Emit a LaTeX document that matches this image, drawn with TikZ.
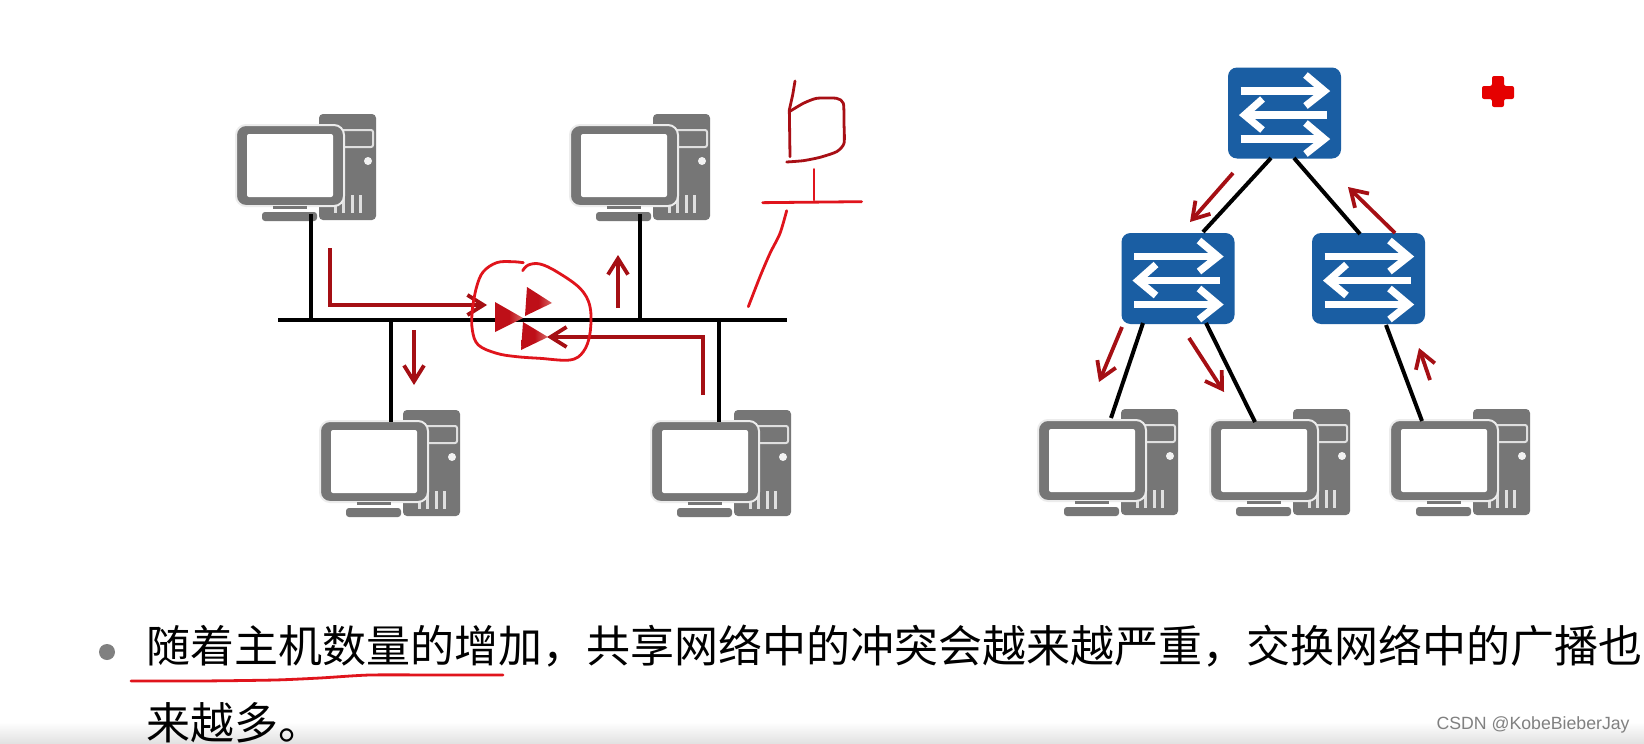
\documentclass[tikz,border=0pt]{standalone}
\usepackage{fontspec}
\setmainfont{Liberation Sans}
\newfontfamily\cjk{Noto Sans CJK SC}
\usetikzlibrary{arrows.meta,shadings}
\definecolor{pcgray}{HTML}{767676}
\definecolor{swblue}{HTML}{1A5EA3}
\definecolor{darkred}{HTML}{A50F14}
\definecolor{inkred}{HTML}{E0141C}
\definecolor{burstL}{HTML}{BE0F18}
\definecolor{burstR}{HTML}{D86A68}
\tikzset{
  x=0.5pt,y=-0.5pt,
  link/.style={line width=2pt,black},
  flow/.style={line width=1.9pt,darkred,-{Straight Barb[length=8pt,width=10pt,line width=1.9pt]}},
  ink/.style={line width=1.4pt,inkred,line cap=round,line join=round},
  swbox/.style={rectangle,rounded corners=4.5pt,fill=swblue,minimum width=56.5pt,minimum height=45.5pt,inner sep=0pt},
  swarrow/.style={line width=3.6pt,white,line join=miter},
  burst/.style={left color=burstL,right color=burstR,middle color=burstL},
  pcicon/.pic={
    \fill[pcgray,rounded corners=2pt] (82,0) rectangle (139,106);
    \draw[white!75!gray,line width=1pt,rounded corners=1pt] (100,16) -- (136,16) -- (136,33) -- (100,33);
    \fill[white!90!gray] (131,47) circle (4);
    \foreach \vx in {98,106,115,123}{\draw[white!75!gray,line width=1.5pt] (\vx,81) -- (\vx,99);}
    \fill[pcgray,draw=white!85!gray,line width=1pt,rounded corners=5pt] (-1,11) rectangle (107,92);
    \fill[white,rounded corners=1pt] (10,20) rectangle (96,83);
    \fill[pcgray] (36,92) rectangle (70,95);
    \fill[pcgray,rounded corners=1.5pt] (25,98) rectangle (80,107);
  },
  pics/swicon/.style={code={
    \draw[swarrow] (-44,-22) -- (40,-22);
    \draw[swarrow] (21,-38) -- (40,-22) -- (21,-7);
    \draw[swarrow] (42,2) -- (-40,2);
    \draw[swarrow] (-22,-14) -- (-40,2) -- (-22,17);
    \draw[swarrow] (-44,26) -- (40,26);
    \draw[swarrow] (21,10) -- (40,26) -- (21,41);
  }}
}
\begin{document}
\begin{tikzpicture}
\useasboundingbox (0,0) rectangle (1644,744);
\fill[white] (0,0) rectangle (1644,744);
\shade[top color=white,bottom color=black!12] (0,722) rectangle (1644,744);

% computers
\pic at (237,114) {pcicon};
\pic at (571,114) {pcicon};
\pic at (321,410) {pcicon};
\pic at (652,410) {pcicon};
\pic at (1039,409) {pcicon};
\pic at (1211,409) {pcicon};
\pic at (1391,409) {pcicon};

% shared bus
\coordinate (busL) at (278,320);
\coordinate (busR) at (787,320);
\coordinate (b1) at (311,320);
\coordinate (b2) at (640,320);
\coordinate (b3) at (391,320);
\coordinate (b4) at (719,320);
\coordinate (h1) at (311,214);
\coordinate (h2) at (640,214);
\coordinate (h3) at (391,422);
\coordinate (h4) at (719,422);
\draw[link] (busL) -- (busR);
\draw[link] (h1) -- (b1);
\draw[link] (h2) -- (b2);
\draw[link] (b3) -- (h3);
\draw[link] (b4) -- (h4);

% left flows
\coordinate (a1) at (330,248);
\coordinate (a2) at (330,305);
\coordinate (a3) at (487,305);
\coordinate (c1) at (414,330);
\coordinate (c2) at (414,385);
\coordinate (d1) at (618,308);
\coordinate (d2) at (618,255);
\coordinate (e1) at (703,395);
\coordinate (e2) at (703,337);
\coordinate (e3) at (547,337);
\draw[flow] (a1) -- (a2) -- (a3);
\draw[flow] (c1) -- (c2);
\draw[flow] (d1) -- (d2);
\draw[flow] (e1) -- (e2) -- (e3);

% collision
\shade[burst] (495,302) -- (495,332) -- (523,318) -- cycle;
\shade[burst] (527,287) -- (525,316) -- (552,303) -- cycle;
\shade[burst] (523,322) -- (521,350) -- (548,337) -- cycle;
\begin{scope}[shift={(440,240)},scale=1/3]
\draw[ink] plot[smooth,tension=0.6] coordinates {(250,68)(215,65)(170,68)(130,95)(110,140)(97,210)(97,270)(115,315)(170,340)(230,350)(300,355)(390,360)(430,335)(450,280)(450,200)(420,145)(350,95)(300,72)(265,75)(248,92)};
\end{scope}

% handwritten mark
\begin{scope}[shift={(720,70)},scale=1/3]
\draw[ink,inkred!75!black] (225,33) -- (218,75) -- (208,120) -- (210,260);
\draw[ink,inkred!75!black] plot[smooth,tension=0.4] coordinates {(208,125)(250,100)(290,85)(350,85)(370,100)(372,160)(372,220)(350,245)(300,262)(250,272)(200,276)};
\draw[ink] (282,298) -- (282,390);
\draw[ink] (128,398) -- (425,395);
\draw[ink] plot[smooth,tension=0.5] coordinates {(200,422)(180,490)(150,550)(120,620)(85,710)};
\end{scope}

% switches
\node[swbox] (sw1) at (1284.5,113) {};
\node[swbox] (sw2) at (1178,278.5) {};
\node[swbox] (sw3) at (1368.5,278.5) {};
\pic at (sw1.center) {swicon};
\pic at (sw2.center) {swicon};
\pic at (sw3.center) {swicon};

\coordinate (s1a) at (1271,158);
\coordinate (s1b) at (1294,158);
\coordinate (s2t) at (1203,232);
\coordinate (s3t) at (1360,234);
\coordinate (s2a) at (1143,323);
\coordinate (s2b) at (1206,323);
\coordinate (s3a) at (1386,325);
\coordinate (p1) at (1111,418);
\coordinate (p2) at (1255,422);
\coordinate (p3) at (1422,421);
\draw[link] (s1a) -- (s2t);
\draw[link] (s1b) -- (s3t);
\draw[link] (s2a) -- (p1);
\draw[link] (s2b) -- (p2);
\draw[link] (s3a) -- (p3);

% right flows
\coordinate (f1) at (1233,173); \coordinate (f2) at (1190,222);
\coordinate (g1) at (1395,233); \coordinate (g2) at (1348,187);
\coordinate (i1) at (1122,327); \coordinate (i2) at (1099,382);
\coordinate (j1) at (1189,338); \coordinate (j2) at (1224,392);
\coordinate (k1) at (1430,380); \coordinate (k2) at (1419,348);
\draw[flow] (f1) -- (f2);
\draw[flow] (g1) -- (g2);
\draw[flow] (i1) -- (i2);
\draw[flow] (j1) -- (j2);
\draw[flow] (k1) -- (k2);

% red plus
\fill[red!90!black,rounded corners=1pt] (1492,76) -- (1504,76) -- (1504,86) -- (1514,86) -- (1514,99) -- (1504,99) -- (1504,107) -- (1492,107) -- (1492,99) -- (1482,99) -- (1482,86) -- (1492,86) -- cycle;

% text
\fill[gray] (107,652) circle (8);
\node[anchor=west,inner sep=0pt] (line1) at (146,646) {\cjk\fontsize{22}{26}\selectfont 随着主机数量的增加，共享网络中的冲突会越来越严重，交换网络中的广播也};
\node[anchor=west,inner sep=0pt] (line2) at (146,723) {\cjk\fontsize{22}{26}\selectfont 来越多。};
\draw[ink] plot[smooth,tension=0.4] coordinates {(131,681)(200,681)(275,680)(320,678)(370,675)(440,675)(503,675)};

% watermark
\node[anchor=east,inner sep=0pt,text=black!50] (mark) at (1630,725) {\fontsize{8.85}{10}\selectfont CSDN @KobeBieberJay};
\end{tikzpicture}
\end{document}
